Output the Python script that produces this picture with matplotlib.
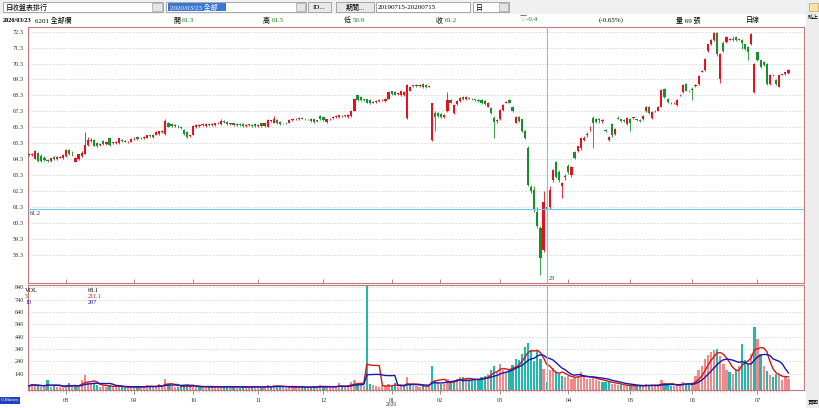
import numpy as np
import pandas as pd
import matplotlib
matplotlib.use("Agg")
import matplotlib.pyplot as plt
from matplotlib.patches import Rectangle

plt.rcParams['font.family'] = ['Liberation Serif', 'Noto Sans CJK TC', 'DejaVu Sans']

# ---------------- data ----------------
opens = [64.60,64.55,64.30,64.70,64.50,64.40,64.25,64.20,64.45,64.30,
         64.40,64.35,64.50,64.85,64.65,64.15,64.30,64.50,64.65,65.20,
         65.45,65.50,65.30,65.20,65.45,65.25,65.60,65.30,65.30,65.30,
         65.50,65.40,65.35,65.40,65.60,65.70,65.60,65.60,65.65,65.80,
         65.70,65.85,65.90,66.00,65.90,66.60,66.50,66.40,66.35,66.30,
         66.15,66.00,65.75,65.85,66.30,66.40,66.45,66.40,66.50,66.45,
         66.45,66.55,66.50,66.70,66.65,66.50,66.55,66.45,66.50,66.50,
         66.40,66.45,66.45,66.50,66.40,66.55,66.40,66.35,66.70,66.60,
         66.75,66.65,66.55,66.60,66.60,66.75,66.80,66.80,66.90,66.85,
         66.80,66.85,66.80,66.70,67.00,66.95,66.65,66.80,66.90,66.95,
         66.95,67.00,67.05,66.95,67.00,67.35,68.30,68.20,68.05,68.05,
         68.00,67.85,67.90,67.95,68.00,67.95,68.10,68.55,68.50,68.40,
         68.30,68.30,66.90,68.60,68.90,68.95,68.90,69.00,68.95,68.85,
         65.50,67.20,67.20,67.15,66.95,67.30,68.00,67.20,67.75,67.95,
         68.20,68.05,68.15,68.10,68.05,68.00,68.00,67.95,67.60,67.50,
         66.90,66.70,66.80,67.40,67.85,68.00,67.60,66.60,66.95,66.80,
         66.10,65.00,62.55,62.40,61.00,60.00,58.60,61.30,61.30,63.00,
         64.10,63.50,62.60,63.20,63.90,63.30,64.75,64.80,65.00,65.50,
         65.80,66.30,66.90,66.85,66.80,66.70,66.15,65.50,66.50,65.90,
         66.90,66.80,66.75,66.50,66.85,66.90,66.80,66.75,66.80,67.30,
         67.60,66.90,67.30,67.35,67.60,68.70,68.10,67.85,67.80,67.70,
         68.30,68.50,69.00,68.60,68.70,68.90,69.00,69.80,69.90,71.10,
         71.50,71.80,72.20,69.30,71.60,71.65,71.80,71.85,71.95,71.80,
         71.80,71.50,71.35,71.50,68.50,71.00,70.50,70.40,70.30,69.00,
         69.60,69.25,68.85,69.60,69.65,69.70]
highs = [64.70,64.70,64.90,64.75,64.60,64.50,64.30,64.40,64.50,64.50,
         64.50,64.60,64.95,64.95,64.80,64.45,64.65,64.80,66.00,65.70,
         65.60,65.55,65.40,65.30,65.50,65.45,65.65,65.40,65.45,65.65,
         65.55,65.50,65.45,65.60,65.70,65.75,65.70,65.75,65.85,65.85,
         65.90,66.05,66.10,66.15,66.80,66.65,66.55,66.50,66.45,66.35,
         66.20,66.05,65.85,66.45,66.50,66.50,66.55,66.55,66.55,66.55,
         66.60,66.65,66.80,66.75,66.70,66.55,66.60,66.55,66.55,66.55,
         66.50,66.50,66.50,66.55,66.50,66.60,66.65,66.80,66.75,67.00,
         66.80,66.70,66.60,66.65,66.80,66.85,66.90,66.95,66.95,66.90,
         66.85,66.90,66.85,66.75,67.05,67.00,66.85,66.90,67.00,67.05,
         67.10,67.05,67.10,67.15,67.40,68.10,68.35,68.25,68.10,68.10,
         68.05,67.95,68.00,68.05,68.05,68.15,68.55,68.60,68.55,68.45,
         68.65,68.55,69.00,68.90,68.95,69.00,69.00,69.05,69.00,68.90,
         67.85,67.30,67.25,67.20,67.15,68.50,68.05,67.75,68.00,68.20,
         68.25,68.25,68.20,68.15,68.10,68.05,68.05,68.00,67.90,67.55,
         67.00,66.80,67.45,67.75,67.95,68.05,67.65,67.00,67.00,66.85,
         66.15,65.10,62.70,62.60,61.30,60.10,62.30,61.50,62.60,63.70,
         64.20,63.60,62.90,63.40,64.00,63.90,64.80,65.15,65.70,65.75,
         66.00,66.40,67.00,66.90,66.90,66.80,66.20,65.75,66.60,66.25,
         67.00,66.85,66.80,66.95,66.90,66.95,66.85,66.80,67.05,67.65,
         67.65,67.30,67.40,67.65,68.70,68.75,68.15,67.90,67.90,68.05,
         68.40,69.00,69.05,68.65,68.80,69.00,69.55,69.90,70.65,71.55,
         71.85,72.30,72.30,70.95,71.70,72.00,71.90,72.00,72.00,71.85,
         71.85,71.55,71.40,72.20,70.35,71.05,70.55,70.45,70.35,69.65,
         69.65,69.30,69.65,69.65,69.80,69.95]
lows = [64.50,64.50,64.30,64.15,64.10,64.20,64.15,64.15,64.25,64.25,
        64.35,64.30,64.45,64.55,64.50,64.10,64.25,64.45,64.60,65.10,
        65.40,65.10,65.05,65.10,65.20,65.20,65.15,65.25,65.25,65.25,
        65.35,65.35,65.30,65.35,65.50,65.50,65.55,65.55,65.60,65.70,
        65.65,65.80,65.85,65.95,65.85,66.30,66.30,66.35,66.25,66.20,
        65.85,65.60,65.70,65.80,66.25,66.35,66.40,66.35,66.40,66.40,
        66.40,66.50,66.45,66.60,66.45,66.45,66.40,66.40,66.40,66.35,
        66.35,66.40,66.35,66.35,66.35,66.35,66.35,66.30,66.65,66.55,
        66.50,66.45,66.50,66.50,66.55,66.70,66.75,66.75,66.80,66.75,
        66.75,66.65,66.60,66.65,66.75,66.70,66.60,66.75,66.85,66.90,
        66.90,66.95,66.95,66.90,66.95,67.30,67.95,67.95,67.95,67.80,
        67.75,67.80,67.85,67.90,67.95,67.90,68.05,68.35,68.30,68.35,
        68.25,68.25,66.85,68.55,68.85,68.85,68.85,68.75,68.75,68.80,
        65.45,66.10,66.95,66.90,66.90,67.25,67.80,67.15,67.70,67.90,
        68.00,68.00,68.05,68.00,67.95,67.90,67.75,67.70,67.55,67.15,
        65.60,66.60,66.75,67.35,67.80,67.80,67.25,66.55,66.65,66.00,
        65.55,62.60,62.20,61.00,60.00,57.05,58.50,59.90,61.20,62.90,
        63.10,62.90,61.90,63.00,63.40,63.20,64.30,64.75,64.90,65.45,
        65.70,66.10,65.00,66.60,66.60,66.60,66.00,65.45,65.70,65.85,
        66.80,66.65,66.65,66.45,66.10,66.85,66.70,66.65,66.75,67.25,
        67.15,66.80,67.25,67.30,67.55,68.15,67.85,67.75,67.75,67.65,
        68.25,68.45,68.55,68.50,68.00,68.85,68.95,69.75,69.85,71.05,
        71.45,71.70,70.80,69.10,71.00,71.60,71.75,71.70,71.70,71.75,
        71.20,71.15,70.50,71.45,68.45,70.45,70.05,70.15,68.95,68.95,
        69.50,68.95,68.80,69.55,69.60,69.65]
closes = [64.55,64.60,64.80,64.20,64.20,64.25,64.20,64.35,64.30,64.45,
          64.45,64.55,64.85,64.60,64.60,64.40,64.60,64.70,65.20,65.50,
          65.50,65.15,65.10,65.20,65.25,65.40,65.20,65.35,65.40,65.60,
          65.45,65.40,65.40,65.55,65.60,65.55,65.65,65.70,65.80,65.75,
          65.85,66.00,66.05,66.10,66.70,66.35,66.40,66.45,66.30,66.25,
          65.90,65.70,65.80,66.40,66.45,66.40,66.50,66.50,66.45,66.50,
          66.55,66.60,66.70,66.65,66.50,66.50,66.45,66.50,66.45,66.40,
          66.45,66.45,66.40,66.40,66.45,66.40,66.60,66.75,66.70,66.80,
          66.55,66.50,66.55,66.55,66.75,66.80,66.85,66.90,66.85,66.80,
          66.80,66.70,66.65,66.70,66.80,66.75,66.80,66.85,66.95,67.00,
          67.05,67.00,67.00,67.10,67.35,68.05,68.00,68.00,68.00,67.85,
          67.80,67.90,67.95,68.00,68.00,68.10,68.50,68.40,68.35,68.40,
          68.60,68.50,68.95,68.85,68.90,68.90,68.95,68.80,68.80,68.85,
          67.80,66.95,67.00,66.95,67.10,68.00,67.85,67.70,67.95,68.15,
          68.05,68.20,68.10,68.05,68.00,67.95,67.80,67.75,67.85,67.20,
          66.65,66.75,67.40,67.70,67.90,67.85,67.30,66.95,66.70,66.05,
          65.60,62.70,62.30,61.15,60.10,58.10,61.60,61.20,62.40,63.60,
          63.20,63.00,62.80,63.20,63.50,63.80,64.40,65.10,65.60,65.65,
          65.90,66.35,66.60,66.65,66.75,66.70,66.10,65.70,65.80,66.20,
          66.85,66.70,66.70,66.90,66.60,66.90,66.75,66.70,67.00,67.60,
          67.20,67.25,67.35,67.60,68.65,68.20,67.90,67.80,67.85,68.00,
          68.35,68.95,68.60,68.55,68.65,68.95,69.50,69.85,70.60,71.50,
          71.80,72.20,70.90,70.90,71.10,71.95,71.80,71.80,71.75,71.80,
          71.60,71.20,71.00,72.15,70.30,70.50,70.10,70.20,69.00,69.60,
          69.55,69.00,69.60,69.60,69.75,69.90]
volumes = [40,60,45,40,35,30,90,30,50,35,
           30,28,40,65,35,45,30,90,130,70,
           55,65,45,35,40,35,50,30,35,40,
           30,28,30,35,30,40,35,30,50,40,
           35,30,60,40,100,55,40,35,30,30,
           45,50,30,45,35,30,30,35,30,30,
           35,40,30,35,40,32,35,30,28,35,
           30,32,35,40,30,28,35,45,30,50,
           40,35,30,28,35,30,32,35,30,28,
           30,35,40,30,45,35,30,38,30,35,
           65,35,30,40,75,90,60,45,40,850,
           60,45,40,35,40,38,55,40,64,35,
           45,40,110,50,40,38,35,45,40,35,
           200,90,70,60,55,95,70,80,100,110,
           110,100,90,85,90,100,110,120,140,170,
           200,150,220,170,150,170,210,260,250,300,
           360,390,330,240,330,260,180,69,170,190,
           150,140,120,110,120,100,110,120,150,110,
           100,100,110,90,80,75,70,75,60,55,
           50,45,40,45,45,40,38,40,45,55,
           50,45,40,45,90,65,50,42,40,45,
           55,75,60,50,60,120,170,200,260,290,
           320,330,340,280,220,170,150,140,170,200,
           380,250,220,300,520,420,300,200,160,130,
           110,140,130,90,110,100]

month_labels = ['08', '09', '10', '11', '12', '01', '02', '03', '04', '05', '06', '07']
month_pos = [12, 34, 53, 74, 95, 117, 132.5, 152, 174, 194, 214, 235]
price_ticks = [58.3, 59.3, 60.3, 61.3, 62.3, 63.3, 64.3, 65.3, 66.3, 67.3, 68.3, 69.3, 70.3, 71.3, 72.3]
vol_ticks = [140, 240, 340, 440, 540, 640, 740, 840]
cursor_index = 167
cursor_price = 61.2
vol_legend_names = ["VOL", "5", "10"]
vol_legend_values = ["68.1", "211.1", "207"]
header_items = [("2020/03/23", 3, 'black'), ("6201 全部欄", 35, 'black'),
                ("開", 173, 'black'), ("61.3", 182, 'green'),
                ("高", 263, 'black'), ("61.5", 272, 'green'),
                ("低", 344, 'black'), ("59.9", 353, 'green'),
                ("收", 436, 'black'), ("61.2", 445, 'green'),
                ("▽-0.4", 520, 'green'), ("(-0.65%)", 599, 'black'),
                ("量 69 張", 676, 'black'), ("日線", 746, 'black')]

# ---------------- figure ----------------
W, H = 820, 408
fig = plt.figure(figsize=(W / 100, H / 100), dpi=100)
fig.patch.set_facecolor('white')

def rect(x0, y0, x1, y1):
    return [x0 / W, 1 - y1 / H, (x1 - x0) / W, (y1 - y0) / H]

def ftext(x, y, s, **kw):
    fig.text(x / W, 1 - y / H, s, **kw)

def fbox(x0, y0, x1, y1, fc, ec='none', lw=0.6):
    fig.patches.append(Rectangle((x0 / W, 1 - y1 / H), (x1 - x0) / W, (y1 - y0) / H,
                                 transform=fig.transFigure, fc=fc, ec=ec, lw=lw, zorder=0))

# toolbar
fbox(0, 0, 806, 14, '#f0f0f0')
fbox(806, 0, 820, 408, '#ececec')
fbox(3, 2, 163, 12, 'white', '#9a9a9a')
fbox(152, 3, 162, 11, '#e4e4e4', '#b0b0b0')
ftext(6, 7.5, "日收盤表排行", fontsize=5, va='center', color='black')
fbox(166, 2, 306, 12, 'white', '#9a9a9a')
fbox(168, 3.5, 226, 10.5, '#3a78d8')
ftext(170, 7.5, "2020/03/23 全部", fontsize=5, va='center', color='white')
fbox(296, 3, 305, 11, '#e4e4e4', '#b0b0b0')
fbox(308, 2, 331, 12, '#e8e8e8', '#9a9a9a')
ftext(319.5, 7.5, "ID...", fontsize=5, va='center', ha='center')
fbox(336, 2, 374, 12, '#e8e8e8', '#9a9a9a')
ftext(355, 7.5, "期間...", fontsize=5, va='center', ha='center')
fbox(376, 2, 470, 12, 'white', '#9a9a9a')
ftext(378, 7.5, "20190715-20200715", fontsize=5, va='center')
fbox(473, 2, 509, 12, 'white', '#9a9a9a')
ftext(476, 7.5, "日", fontsize=5, va='center')
fbox(499, 3, 508, 11, '#e4e4e4', '#b0b0b0')
fbox(809, 3, 818, 11, '#f3e3a8', '#c8b070')
ftext(813, 17, "貼上", fontsize=4, ha='center', va='center')
ftext(813, 402, "頁面", fontsize=4, ha='center', va='center')
fbox(0, 397, 20, 404, '#2040c0')
ftext(1, 400.5, "C:Money", fontsize=3.5, va='center', color='white')

for s, x, c in header_items:
    ftext(x, 20, s, fontsize=(4.6 if x < 30 else 5), va='center',
          color=('#108010' if c == 'green' else 'black'),
          fontweight=('bold' if x < 30 else 'normal'))

# ---------------- price panel ----------------
o = np.array(opens); h = np.array(highs); l = np.array(lows); c = np.array(closes)
v = np.array(volumes, dtype=float)
idx = np.arange(len(c))
up = c >= o
RED, GREEN = '#e8101c', '#17902a'
cols = np.where(up, RED, GREEN)
CURSOR = '#6cc8e4'

frame_col = '#c07878'
axp = fig.add_axes(rect(28, 27, 804, 283))
axp.set_xlim(-0.3, 250)
axp.set_ylim(56.54, 72.59)
for yv in price_ticks:
    axp.axhline(yv, color='#d4d4d4', lw=0.5, ls=(0, (3, 2)), zorder=0)
axp.vlines(idx, l, h, colors=cols, lw=0.6, zorder=2)
body = np.maximum(np.abs(c - o), 0.04)
axp.bar(idx, body, bottom=np.minimum(o, c), width=0.7, color=cols, linewidth=0, zorder=3)
axp.axhline(cursor_price, color=CURSOR, lw=0.8, zorder=4)
axp.axvline(cursor_index, color=CURSOR, lw=0.8, zorder=4)
axp.text(0.2, cursor_price - 0.12, f"{cursor_price:.1f}", fontsize=4.5, va='top', color='#202060')
axp.text(cursor_index + 0.5, 56.65, "23", fontsize=4.5, va='bottom', color='#202060')
axp.set_yticks(price_ticks)
axp.set_yticklabels([f"{t:.1f}" for t in price_ticks])
axp.set_xticks(month_pos)
axp.set_xticklabels([])
axp.tick_params(axis='y', labelsize=4.5, length=0, pad=3, labelcolor='#303030')
axp.tick_params(axis='x', length=3, direction='in', color='#606060', width=0.5)
for sp in axp.spines.values():
    sp.set_color(frame_col); sp.set_linewidth(0.8)

# ---------------- volume panel ----------------
axv = fig.add_axes(rect(28, 285, 804, 390))
axv.set_xlim(-0.3, 250)
axv.set_ylim(8, 859)
for yv in vol_ticks:
    axv.axhline(yv, color='#d4d4d4', lw=0.5, ls=(0, (3, 2)), zorder=0)
prev = np.concatenate([[o[0]], c[:-1]])
vcols = np.where(c >= prev, '#f08a8a', '#22b8b0')
axv.bar(idx, v - 8, bottom=8, width=0.72, color=vcols, linewidth=0, zorder=2)
ma5 = pd.Series(v).rolling(5, min_periods=1).mean()
ma10 = pd.Series(v).rolling(10, min_periods=1).mean()
axv.plot(idx, ma5, color='#d01818', lw=1.0, zorder=3)
axv.plot(idx, ma10, color='#1818b0', lw=1.0, zorder=3)
axv.axvline(cursor_index, color=CURSOR, lw=0.8, zorder=4)
axv.set_yticks(vol_ticks)
axv.set_yticklabels([str(t) for t in vol_ticks])
axv.set_xticks(month_pos)
axv.set_xticklabels(month_labels)
axv.set_xticks(idx, minor=True)
axv.tick_params(axis='y', labelsize=4.5, length=0, pad=3, labelcolor='#303030')
axv.tick_params(axis='x', which='major', labelsize=4.5, length=3, pad=3, color='#606060',
                width=0.5, labelcolor='#303030')
axv.tick_params(axis='x', which='minor', length=1.2, color='#909090', width=0.4)
for sp in axv.spines.values():
    sp.set_color(frame_col); sp.set_linewidth(0.8)
ftext(391, 405, "2020", fontsize=4, ha='center', va='center', color='#303030')

leg_cols = ['black', '#d01818', '#1818b0']
for k in range(3):
    ftext(25, 290 + 6.5 * k, vol_legend_names[k], fontsize=4.5, va='center', color=leg_cols[k])
    ftext(88, 290 + 6.5 * k, vol_legend_values[k], fontsize=4.5, va='center', color=leg_cols[k])

fig.savefig("out.png", dpi=100)
